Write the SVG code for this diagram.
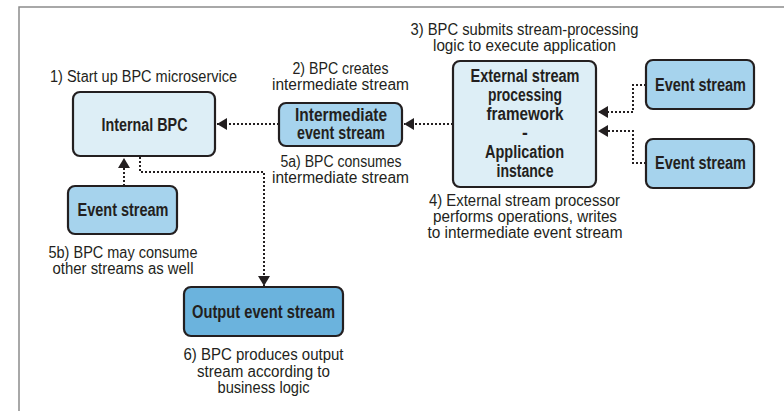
<svg xmlns="http://www.w3.org/2000/svg" width="784" height="411" viewBox="0 0 784 411">
<defs>
<style>
.frame{fill:none;stroke:#8c8c8c;stroke-width:1.5}
.box{stroke:#231f20;stroke-width:2.2}
.light{fill:#ddeef6}
.mid{fill:#a6d3ed}
.dark{fill:#6bb3dd}
.lbl{font-family:"Liberation Sans",Arial,sans-serif;font-size:17.5px;font-weight:bold;fill:#231f20;text-anchor:middle}
.ann{font-family:"Liberation Sans",Arial,sans-serif;font-size:16px;fill:#231f20;text-anchor:middle}
.con{fill:none;stroke:#231f20;stroke-width:2;stroke-dasharray:2 2}
</style>
<marker id="arr" viewBox="0 0 10 12" refX="10" refY="6" markerWidth="10" markerHeight="12" markerUnits="userSpaceOnUse" orient="auto">
<path d="M0,0 L10,6 L0,12 Z" fill="#231f20"/>
</marker>
</defs>
<rect width="784" height="411" fill="#ffffff"/>
<path class="frame" d="M19,411 V7 H784"/>

<g id="connectors">
<path class="con" d="M279,124 H217" marker-end="url(#arr)"/>
<path class="con" d="M453,124 H404" marker-end="url(#arr)"/>
<path class="con" d="M646,85 H633 V112 H598" marker-end="url(#arr)"/>
<path class="con" d="M646,163 H633 V131 H598" marker-end="url(#arr)"/>
<path class="con" d="M124,186 V158" marker-end="url(#arr)"/>
<path class="con" d="M140,157 V172 H264 V286" marker-end="url(#arr)"/>
</g>

<g id="internal-bpc">
<rect class="box light" x="73" y="92" width="142" height="64" rx="7"/>
<text class="lbl" x="144.5" y="131" textLength="86" lengthAdjust="spacingAndGlyphs">Internal BPC</text>
<text class="ann" x="143.5" y="82" textLength="187" lengthAdjust="spacingAndGlyphs">1) Start up BPC microservice</text>
</g>

<g id="intermediate-stream">
<rect class="box mid" x="279" y="103" width="123" height="43" rx="7"/>
<text class="lbl" x="341" y="121" textLength="92" lengthAdjust="spacingAndGlyphs">Intermediate</text>
<text class="lbl" x="341" y="139" textLength="88" lengthAdjust="spacingAndGlyphs">event stream</text>
<text class="ann" x="340.5" y="74" textLength="96" lengthAdjust="spacingAndGlyphs">2) BPC creates</text>
<text class="ann" x="340.5" y="90" textLength="137" lengthAdjust="spacingAndGlyphs">intermediate stream</text>
<text class="ann" x="341" y="167" textLength="121" lengthAdjust="spacingAndGlyphs">5a) BPC consumes</text>
<text class="ann" x="340.5" y="183" textLength="137" lengthAdjust="spacingAndGlyphs">intermediate stream</text>
</g>

<g id="external-framework">
<rect class="box light" x="453" y="61" width="143" height="126" rx="7"/>
<text class="lbl" x="525" y="82" textLength="109" lengthAdjust="spacingAndGlyphs">External stream</text>
<text class="lbl" x="525" y="101" textLength="74" lengthAdjust="spacingAndGlyphs">processing</text>
<text class="lbl" x="525" y="120" textLength="77" lengthAdjust="spacingAndGlyphs">framework</text>
<text class="lbl" x="525" y="139">-</text>
<text class="lbl" x="524.5" y="158" textLength="79" lengthAdjust="spacingAndGlyphs">Application</text>
<text class="lbl" x="525" y="177" textLength="57" lengthAdjust="spacingAndGlyphs">instance</text>
<text class="ann" x="524.5" y="35" textLength="228" lengthAdjust="spacingAndGlyphs">3) BPC submits stream-processing</text>
<text class="ann" x="524.5" y="51" textLength="183" lengthAdjust="spacingAndGlyphs">logic to execute application</text>
<text class="ann" x="524.5" y="206" textLength="191" lengthAdjust="spacingAndGlyphs">4) External stream processor</text>
<text class="ann" x="525" y="222" textLength="184" lengthAdjust="spacingAndGlyphs">performs operations, writes</text>
<text class="ann" x="525" y="238" textLength="195" lengthAdjust="spacingAndGlyphs">to intermediate event stream</text>
</g>

<g id="event-stream-top">
<rect class="box mid" x="646" y="60" width="108" height="49" rx="7"/>
<text class="lbl" x="700.5" y="91" textLength="91" lengthAdjust="spacingAndGlyphs">Event stream</text>
</g>

<g id="event-stream-bottom">
<rect class="box mid" x="646" y="139" width="108" height="49" rx="7"/>
<text class="lbl" x="700.5" y="169" textLength="91" lengthAdjust="spacingAndGlyphs">Event stream</text>
</g>

<g id="event-stream-left">
<rect class="box mid" x="68" y="186" width="109" height="48" rx="7"/>
<text class="lbl" x="123" y="216" textLength="91" lengthAdjust="spacingAndGlyphs">Event stream</text>
<text class="ann" x="123" y="258" textLength="149" lengthAdjust="spacingAndGlyphs">5b) BPC may consume</text>
<text class="ann" x="123" y="274" textLength="141" lengthAdjust="spacingAndGlyphs">other streams as well</text>
</g>

<g id="output-stream">
<rect class="box dark" x="184" y="287" width="159" height="49" rx="7"/>
<text class="lbl" x="263.5" y="318" textLength="143" lengthAdjust="spacingAndGlyphs">Output event stream</text>
<text class="ann" x="263.5" y="360" textLength="160" lengthAdjust="spacingAndGlyphs">6) BPC produces output</text>
<text class="ann" x="263.5" y="377" textLength="133" lengthAdjust="spacingAndGlyphs">stream according to</text>
<text class="ann" x="263.5" y="393" textLength="92" lengthAdjust="spacingAndGlyphs">business logic</text>
</g>
</svg>
